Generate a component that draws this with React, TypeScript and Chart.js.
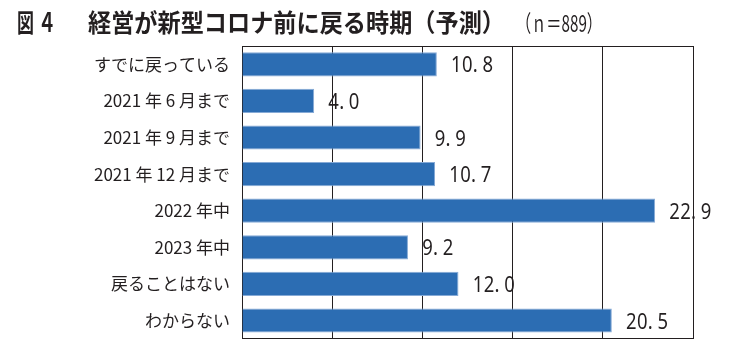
import React, { useEffect, useRef } from "react";
import { Chart, registerables } from "chart.js";

Chart.register(...registerables);

const categories = [
  "すでに戻っている",
  "2021 年 6 月まで",
  "2021 年 9 月まで",
  "2021 年 12 月まで",
  "2022 年中",
  "2023 年中",
  "戻ることはない",
  "わからない",
];
const values = [10.8, 4.0, 9.9, 10.7, 22.9, 9.2, 12.0, 20.5];
const xMin = 0;
const xMax = 25;
const xStep = 5;

const titleFig = "図";
const titleNum = "４";
const titleMain = "経営が新型コロナ前に戻る時期（予測）";
const titleN = "（ｎ＝889）";

const INK = "#231f20";

function fitText(ctx: CanvasRenderingContext2D, text: string, x: number, y: number, width: number, font: string) {
  ctx.save();
  ctx.font = font;
  ctx.fillStyle = INK;
  ctx.textBaseline = "alphabetic";
  ctx.textAlign = "left";
  const w = ctx.measureText(text).width;
  ctx.translate(x, y);
  ctx.scale(width / w, 1);
  ctx.fillText(text, 0, 0);
  ctx.restore();
}

const decorPlugin = {
  id: "decor",
  afterDraw(chart: any) {
    const ctx: CanvasRenderingContext2D = chart.ctx;
    const ca = chart.chartArea;
    ctx.save();
    ctx.strokeStyle = INK;
    ctx.lineWidth = 1;
    ctx.beginPath();
    ctx.moveTo(ca.left, Math.round(ca.top) + 0.5);
    ctx.lineTo(ca.right + 0.5, Math.round(ca.top) + 0.5);
    ctx.stroke();
    ctx.restore();

    const bold = "bold 25px 'Noto Sans CJK JP'";
    fitText(ctx, titleFig, 17, 32, 17, bold);
    fitText(ctx, titleNum, 38, 32, 18, "bold 26px 'Noto Sans CJK JP'");
    fitText(ctx, titleMain, 88, 32, 417, bold);
    fitText(ctx, titleN, 516, 32, 86, "23px 'Noto Sans CJK JP'");

    const meta = chart.getDatasetMeta(0);
    ctx.save();
    ctx.fillStyle = INK;
    ctx.font = "22px 'Noto Sans'";
    ctx.textBaseline = "alphabetic";
    meta.data.forEach((bar: any, i: number) => {
      const label = values[i].toFixed(1);
      let cx = bar.x + 14;
      const by = bar.y + 8;
      for (const ch of label) {
        if (ch === ".") {
          ctx.save();
          ctx.textAlign = "left";
          ctx.translate(cx, by);
          ctx.scale(0.85, 1);
          ctx.fillText(ch, 0, 0);
          ctx.restore();
          cx += 9.5;
        } else {
          ctx.save();
          ctx.textAlign = "center";
          ctx.translate(cx + 5.5, by);
          ctx.scale(0.84, 1);
          ctx.fillText(ch, 0, 0);
          ctx.restore();
          cx += 11;
        }
      }
    });
    ctx.restore();
  },
};

export default function App() {
  const ref = useRef<HTMLCanvasElement>(null);
  useEffect(() => {
    if (!ref.current) return;
    const chart = new Chart(ref.current, {
      type: "bar",
      data: {
        labels: categories,
        datasets: [
          {
            data: values,
            backgroundColor: "#2c6db3",
            borderColor: "#86aad6",
            borderWidth: 1,
            barPercentage: 0.66,
            categoryPercentage: 1,
          },
        ],
      },
      options: {
        indexAxis: "y",
        responsive: false,
        animation: false,
        layout: { padding: { left: 0, right: 38, top: 46, bottom: 15 } },
        plugins: {
          legend: { display: false },
          tooltip: { enabled: false },
          title: { display: false },
        },
        scales: {
          x: {
            min: xMin,
            max: xMax,
            ticks: { display: false, stepSize: xStep },
            grid: { color: INK, lineWidth: 1, drawTicks: false },
            border: { display: true, color: INK, width: 1 },
            afterFit: (s: any) => {
              s.height = 0;
            },
          },
          y: {
            ticks: {
              color: INK,
              padding: 12,
              font: { family: "'Noto Sans CJK JP'", size: 17 },
            },
            grid: { display: false, drawTicks: false },
            border: { display: true, color: INK, width: 1 },
            afterFit: (s: any) => {
              s.width = 242;
            },
          },
        },
      } as any,
      plugins: [decorPlugin],
    });
    return () => chart.destroy();
  }, []);
  return (
    <div style={{ position: "absolute", left: 0, top: 0, width: 731, height: 361, background: "#fff" }}>
      <canvas ref={ref} width={731} height={361} style={{ display: "block" }} />
    </div>
  );
}
